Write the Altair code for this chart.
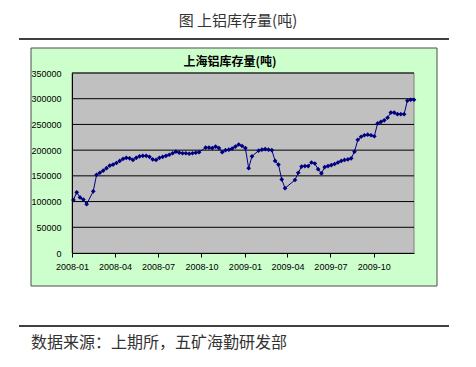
import altair as alt
import pandas as pd

fig_title = "图  上铝库存量(吨)"
chart_title = "上海铝库存量(吨)"
source_note = "数据来源：上期所，五矿海勤研发部"

first_week = "2008-01-04"
stock = [
    103000, 118000, 108000, 104000, 95000, None, 120000, 152000, 156000, 160000,
    165000, 170000, 172000, 175000, 179000, 183000, 185000, 184000, 181000, 185000,
    188000, 189000, 189000, 187000, 182000, 181000, 185000, 187000, 189000, 191000,
    194000, 197000, 195000, 194000, 194000, 193000, 194000, 195000, 196000, None,
    205000, 205000, 204000, 207000, 204000, 196000, 200000, 201000, 203000, 207000,
    211000, 208000, 204000, 165000, 188000, None, 199000, 201000, 202000, 201000,
    200000, 179000, 172000, 143000, 126000, None, None, 142000, 156000, 168000,
    169000, 169000, 176000, 174000, 163000, 155000, 167000, 169000, 171000, 173000,
    176000, 179000, 181000, 182000, 184000, 197000, 220000, 226000, 229000, 230000,
    229000, 227000, 252000, 255000, 258000, 263000, 273000, 273000, 270000, 270000,
    270000, 296000, 298000, 298000,
]
y_ticks = [0, 50000, 100000, 150000, 200000, 250000, 300000, 350000]
x_ticks = ["2008-01", "2008-04", "2008-07", "2008-10", "2009-01", "2009-04", "2009-07", "2009-10"]

W, H = 342, 180

dates = pd.date_range(first_week, periods=len(stock), freq="7D")
df = pd.DataFrame({"date": dates, "stock": stock}).dropna()
grid_df = pd.DataFrame({"g": y_ticks[1:]})
one = pd.DataFrame({"a": [0]})

x_vals = [alt.DateTime(year=int(s[:4]), month=int(s[5:]), date=1) for s in x_ticks]
x_scale = alt.Scale(domain=[alt.DateTime(year=2008, month=1, date=1),
                            alt.DateTime(year=2009, month=12, date=25)])
y_scale = alt.Scale(domain=[0, 350000], nice=False)

lab_font = "Liberation Sans"

y_axis = alt.Axis(values=y_ticks, format="d", zindex=1, grid=False,
                  domainColor="black", ticks=False, labelOverlap=False,
                  labelFont=lab_font, labelFontSize=9, labelColor="black",
                  labelPadding=11)
x_axis = alt.Axis(values=x_vals, format="%Y-%m", zindex=1, grid=False,
                  domainColor="black", tickColor="black", tickSize=4,
                  labelFont=lab_font, labelFontSize=9, labelColor="black",
                  labelPadding=5, labelAngle=0, labelOverlap=False,
                  labelFlush=False, labelBound=False)

green = alt.Chart(one).mark_rect(fill="#CCFFCC", stroke="#4d4d4d", strokeWidth=1).encode(
    x=alt.value(-41), x2=alt.value(365), y=alt.value(-25), y2=alt.value(213))

plot_bg = alt.Chart(one).mark_rect(fill="#C0C0C0", stroke="#808080", strokeWidth=1).encode(
    x=alt.value(0), x2=alt.value(W), y=alt.value(0), y2=alt.value(H))

grid = alt.Chart(grid_df).mark_rule(color="black", strokeWidth=1).encode(
    y=alt.Y("g:Q", scale=y_scale, axis=y_axis, title=None), x=alt.value(0), x2=alt.value(W))

line = alt.Chart(df).mark_line(
    color="#000080", strokeWidth=1,
    point=alt.OverlayMarkDef(shape="diamond", size=22, filled=True, color="#000080"),
).encode(
    x=alt.X("date:T", scale=x_scale, title=None, axis=x_axis),
    y=alt.Y("stock:Q", scale=y_scale, title=None, axis=y_axis),
)

top_rule = alt.Chart(one).mark_rule(color="black", strokeWidth=1.5).encode(
    x=alt.value(-53), x2=alt.value(377), y=alt.value(-34))
bottom_rule = alt.Chart(one).mark_rule(color="black", strokeWidth=1.5).encode(
    x=alt.value(-53), x2=alt.value(377), y=alt.value(253))

t_fig = alt.Chart(one).mark_text(text=fig_title, font="Noto Sans CJK SC", fontSize=15,
                                 color="#333333", baseline="middle").encode(
    x=alt.value(166), y=alt.value(-52))
t_chart = alt.Chart(one).mark_text(text=chart_title, font="Noto Sans CJK SC", fontSize=12,
                                   fontWeight="bold", color="black", baseline="middle").encode(
    x=alt.value(158), y=alt.value(-11))
t_src = alt.Chart(one).mark_text(text=source_note, font="Noto Sans CJK SC", fontSize=16,
                                 color="#333333", align="left", baseline="middle").encode(
    x=alt.value(-41), y=alt.value(270))

chart = alt.layer(green, plot_bg, grid, line, top_rule, bottom_rule, t_fig, t_chart, t_src).properties(
    width=W, height=H,
    autosize=alt.AutoSizeParams(type="none"),
    padding={"left": 64, "top": 65, "right": 54, "bottom": 106},
    background="white",
).configure_view(stroke=None)

chart.save("out.html", embed_options={"renderer": "svg", "actions": False})
